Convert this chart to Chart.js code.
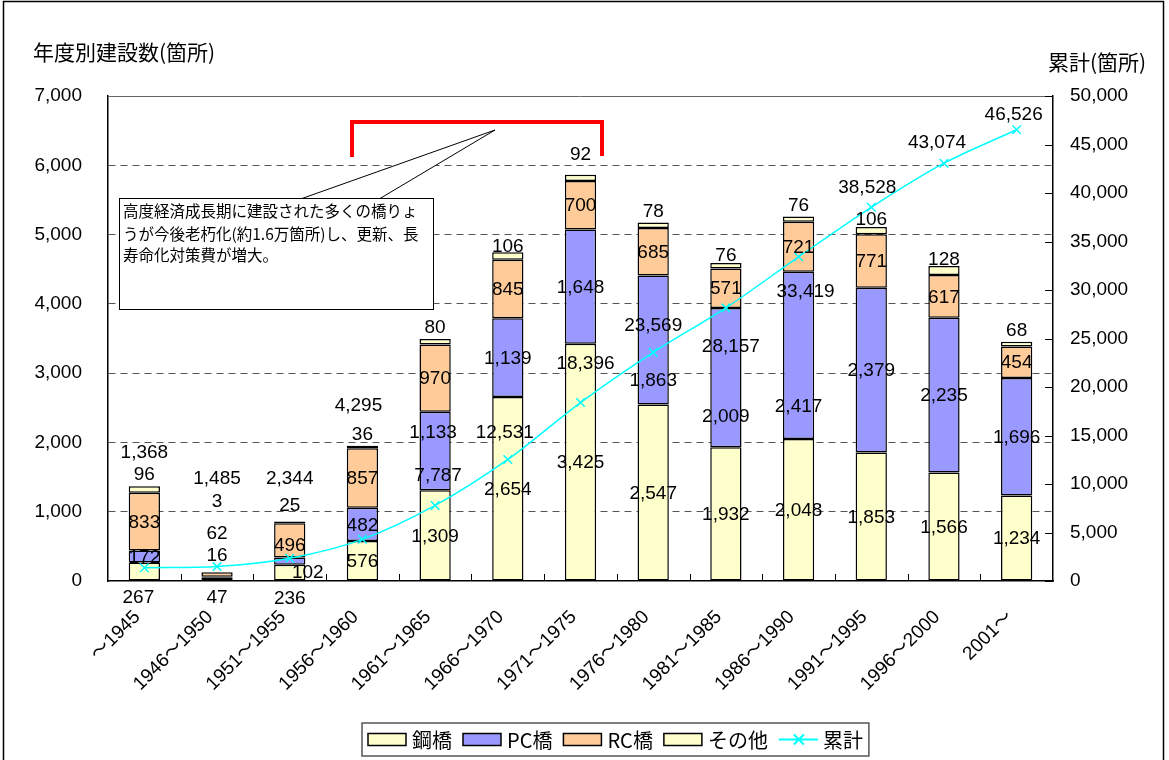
<!DOCTYPE html>
<html lang="ja">
<head>
<meta charset="utf-8">
<title>年度別建設数</title>
<script src="https://cdn.jsdelivr.net/npm/chart.js@4.4.1/dist/chart.umd.min.js"></script>
<style>
  html, body { margin: 0; padding: 0; background: #fff; }
  #wrap { width: 1169px; height: 760px; }
</style>
</head>
<body>
<div id="wrap"><canvas id="bridgeChart" width="1169" height="760"></canvas></div>
<script>
// データ
const categories = ['～1945', '1946～1950', '1951～1955', '1956～1960', '1961～1965', '1966～1970',
    '1971～1975', '1976～1980', '1981～1985', '1986～1990', '1991～1995', '1996～2000', '2001～'];
const steelBridges = [267, 47, 236, 576, 1309, 2654, 3425, 2547, 1932, 2048, 1853, 1566, 1234];
const pcBridges = [172, 16, 102, 482, 1133, 1139, 1648, 1863, 2009, 2417, 2379, 2235, 1696];
const rcBridges = [833, 62, 496, 857, 970, 845, 700, 685, 571, 721, 771, 617, 454];
const otherBridges = [96, 3, 25, 36, 80, 106, 92, 78, 76, 76, 106, 128, 68];
const cumulative = [1368, 1485, 2344, 4295, 7787, 12531, 18396, 23569, 28157, 33419, 38528, 43074, 46526];
const leftTicks = [0, 1000, 2000, 3000, 4000, 5000, 6000, 7000];
const rightTicks = [0, 5000, 10000, 15000, 20000, 25000, 30000, 35000, 40000, 45000, 50000];

const NUM_FONT = "'Liberation Sans', Arial, 'Noto Sans CJK JP', sans-serif";
const JP_FONT = "'Noto Sans CJK JP', 'Noto Sans CJK SC', sans-serif";

// ラベル位置の微調整 [dx, dy] (元図で手動移動されているもの)
const labelShift = [
    { 0: [-6, 25], 1: [0, 18], 2: [0, 25] },
    { 1: [0, -22], 2: [18, 11], 4: [-2, -19], 7: [0, 40], 8: [0, 38], 9: [0, 50] },
    { 1: [0, -42], 2: [0, 4] },
    { 1: [0, -59], 2: [0, -5], 5: [0, 5], 6: [0, -9], 8: [0, 4], 10: [0, 4], 11: [0, 5] },
    { 0: [0, -116], 1: [0, -89], 2: [0, -80], 3: [-4, -135], 4: [3, -31], 5: [-3, -28], 6: [5, -40],
      7: [0, -28], 8: [5, 38], 9: [7, 34], 10: [-4, -21], 11: [-7, -21], 12: [-3, -16] }
];

const fmt = v => v.toLocaleString('en-US');

function barSet(label, data, color) {
    return {
        type: 'bar', label: label, data: data,
        backgroundColor: color, borderColor: '#000', borderWidth: 1.5, borderSkipped: false,
        yAxisID: 'y', stack: 'bridges', order: 1,
        barPercentage: 0.43, categoryPercentage: 1
    };
}

const decorPlugin = {
    id: 'decor',
    afterDraw(chart) {
        const ctx = chart.ctx;
        const area = chart.chartArea;
        const xs = chart.scales.x;
        const y2 = chart.scales.y2;
        ctx.save();

        // 上枠
        ctx.strokeStyle = '#666';
        ctx.lineWidth = 1;
        ctx.beginPath();
        ctx.moveTo(area.left, area.top + 0.5);
        ctx.lineTo(area.right, area.top + 0.5);
        ctx.stroke();

        // 目盛 (内向き)
        ctx.strokeStyle = '#000';
        ctx.lineWidth = 1;
        const half = (xs.getPixelForValue(1) - xs.getPixelForValue(0)) / 2;
        for (let i = 1; i < categories.length; i++) {
            const x = Math.round(xs.getPixelForValue(i) - half) + 0.5;
            ctx.beginPath();
            ctx.moveTo(x, area.bottom);
            ctx.lineTo(x, area.bottom - 7);
            ctx.stroke();
        }
        rightTicks.forEach(v => {
            const y = Math.round(y2.getPixelForValue(v)) + 0.5;
            ctx.beginPath();
            ctx.moveTo(area.right - 8, y);
            ctx.lineTo(area.right, y);
            ctx.stroke();
        });

        // 軸ラベル (45度)
        ctx.fillStyle = '#000';
        ctx.font = '19px ' + NUM_FONT;
        ctx.textAlign = 'right';
        ctx.textBaseline = 'middle';
        categories.forEach((c, i) => {
            ctx.save();
            ctx.translate(xs.getPixelForValue(i) - 7, area.bottom + 33);
            ctx.rotate(-Math.PI / 4);
            ctx.fillText(c, 0, 0);
            ctx.restore();
        });

        // データラベル
        ctx.textAlign = 'center';
        ctx.textBaseline = 'middle';
        ctx.font = '19px ' + NUM_FONT;
        chart.data.datasets.forEach((ds, d) => {
            const meta = chart.getDatasetMeta(d);
            meta.data.forEach((el, i) => {
                let x = el.x, y;
                if (ds.type === 'line') {
                    y = el.y;
                } else if (d === 3) {
                    y = el.y - 12;
                } else {
                    y = (el.y + el.base) / 2;
                }
                const s = labelShift[d][i];
                if (s) { x += s[0]; y += s[1]; }
                ctx.fillText(fmt(ds.data[i]), x, y + 1);
            });
        });

        // 軸タイトル
        ctx.textAlign = 'left';
        ctx.font = '21px ' + JP_FONT;
        ctx.fillText('年度別建設数(箇所)', 33, 52);
        ctx.fillText('累計(箇所)', 1048, 62);

        // 赤い括弧
        ctx.strokeStyle = '#FF0000';
        ctx.lineWidth = 4;
        ctx.beginPath();
        ctx.moveTo(352, 157);
        ctx.lineTo(352, 122);
        ctx.lineTo(602, 122);
        ctx.lineTo(602, 156);
        ctx.stroke();

        // 吹き出し
        ctx.strokeStyle = '#000';
        ctx.lineWidth = 1;
        ctx.fillStyle = '#fff';
        ctx.beginPath();
        ctx.moveTo(302, 198.5);
        ctx.lineTo(495, 130);
        ctx.lineTo(380, 198.5);
        ctx.closePath();
        ctx.fill();
        ctx.beginPath();
        ctx.moveTo(302, 198.5);
        ctx.lineTo(495, 130);
        ctx.lineTo(380, 198.5);
        ctx.stroke();
        ctx.fillRect(119.5, 198.5, 314, 111);
        ctx.strokeRect(119.5, 198.5, 314, 111);
        ctx.fillStyle = '#000';
        ctx.font = '15.5px ' + JP_FONT;
        ctx.textBaseline = 'middle';
        ctx.fillText('高度経済成長期に建設された多くの橋りょ', 123, 211);
        ctx.fillText('うが今後老朽化(約1.6万箇所)し、更新、長', 123, 234);
        ctx.fillText('寿命化対策費が増大。', 123, 255);

        // 凡例
        const lx = 362, ly = 723, lh = 33;
        ctx.font = '20px ' + JP_FONT;
        let widths = chart.data.datasets.map(ds => ctx.measureText(ds.label).width);
        let total = 6;
        widths.forEach(w => { total += 39 + 5 + w + 11; });
        total -= 5;
        ctx.strokeStyle = '#555';
        ctx.lineWidth = 1.5;
        ctx.strokeRect(lx, ly, total, lh);
        let cx = lx + 6;
        const cy = ly + lh / 2;
        chart.data.datasets.forEach((ds, d) => {
            if (ds.type === 'line') {
                ctx.strokeStyle = ds.borderColor;
                ctx.lineWidth = 2;
                ctx.beginPath();
                ctx.moveTo(cx, cy);
                ctx.lineTo(cx + 39, cy);
                ctx.moveTo(cx + 15, cy - 5);
                ctx.lineTo(cx + 25, cy + 5);
                ctx.moveTo(cx + 25, cy - 5);
                ctx.lineTo(cx + 15, cy + 5);
                ctx.stroke();
            } else {
                ctx.fillStyle = ds.backgroundColor;
                ctx.fillRect(cx, cy - 6, 38, 12);
                ctx.strokeStyle = '#000';
                ctx.lineWidth = 1.5;
                ctx.strokeRect(cx, cy - 6, 38, 12);
            }
            ctx.fillStyle = '#000';
            ctx.textAlign = 'left';
            ctx.fillText(ds.label, cx + 44, cy + 1);
            cx += 39 + 5 + widths[d] + 11;
        });

        // 外枠
        ctx.strokeStyle = '#000';
        ctx.lineWidth = 1.5;
        ctx.strokeRect(3.5, 1.5, 1160, 800);
        ctx.restore();
    }
};

const ctx1 = document.getElementById('bridgeChart').getContext('2d');
const bridgeChart = new Chart(ctx1, {
    data: {
        labels: categories,
        datasets: [
            barSet('鋼橋', steelBridges, '#FFFFCC'),
            barSet('PC橋', pcBridges, '#9999FF'),
            barSet('RC橋', rcBridges, '#FFCC99'),
            barSet('その他', otherBridges, '#FFFFCC'),
            {
                type: 'line', label: '累計', data: cumulative, yAxisID: 'y2', order: 0,
                borderColor: '#00FFFF', backgroundColor: '#00FFFF', borderWidth: 1.5,
                pointStyle: 'crossRot', pointRadius: 6, pointBorderWidth: 1.5,
                pointBorderColor: '#00FFFF', tension: 0.3, fill: false
            }
        ]
    },
    options: {
        responsive: false,
        animation: false,
        layout: { padding: { top: 96, left: 0, right: 0, bottom: 0 } },
        scales: {
            x: {
                stacked: true,
                offset: true,
                grid: { display: false, drawTicks: false },
                border: { color: '#000', width: 1.5 },
                ticks: { display: false },
                afterFit: s => { s.height = 179; }
            },
            y: {
                stacked: true,
                position: 'left',
                min: leftTicks[0],
                max: leftTicks[leftTicks.length - 1],
                afterBuildTicks: s => { s.ticks = leftTicks.map(v => ({ value: v })); },
                ticks: {
                    padding: 26,
                    color: '#000',
                    font: { family: NUM_FONT, size: 19 },
                    callback: v => fmt(v)
                },
                grid: {
                    drawTicks: false,
                    lineWidth: 1,
                    color: c => (c.tick && (c.tick.value === 0 || c.tick.value === 7000)) ? 'rgba(0,0,0,0)' : '#555'
                },
                border: { color: '#000', width: 1.5, dash: [7, 5] },
                afterFit: s => { s.width = 108; }
            },
            y2: {
                position: 'right',
                stacked: false,
                min: rightTicks[0],
                max: rightTicks[rightTicks.length - 1],
                afterBuildTicks: s => { s.ticks = rightTicks.map(v => ({ value: v })); },
                ticks: {
                    padding: 17,
                    color: '#000',
                    font: { family: NUM_FONT, size: 19 },
                    callback: v => fmt(v)
                },
                grid: { drawOnChartArea: false, drawTicks: false },
                border: { color: '#000', width: 1.5 },
                afterFit: s => { s.width = 116; }
            }
        },
        plugins: {
            legend: { display: false },
            tooltip: { enabled: false }
        }
    },
    plugins: [decorPlugin]
});
</script>
</body>
</html>
